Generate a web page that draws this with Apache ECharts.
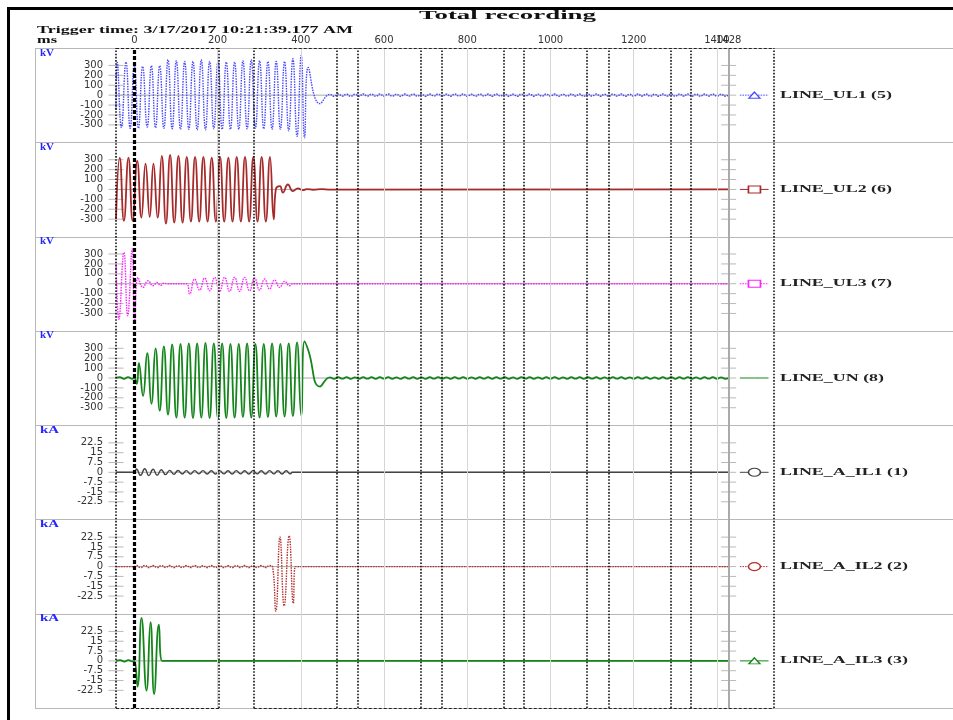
<!DOCTYPE html>
<html><head><meta charset="utf-8">
<script src="https://cdn.jsdelivr.net/npm/echarts@6/dist/echarts.min.js"></script>
<style>html,body{margin:0;padding:0;background:#fff}#c{width:953px;height:720px}</style>
</head><body><div id="c"></div><script>
// ---------------- data ----------------
const xStart = -44, xEnd = 1428, xMax = 1537;
const xTickLabels = [0, 200, 400, 600, 800, 1000, 1200, 1400];
const xEndLabel = [1428];
const gridLineTimes = [200, 400, 600, 800, 1000, 1200, 1400];
const cursorTimes = [-44, 204, 287, 486, 538, 688, 738, 887, 935, 1087, 1139, 1289, 1337, 1537];
const triggerTime = 0;
const borderSegments = [[-44, 204], [287, 1537]];
const kvTicks = [300, 200, 100, 0, -100, -200, -300];
const kaTicks = [22.5, 15, 7.5, 0, -7.5, -15, -22.5];
const kvRange = 476, kaRange = 36;
const legendSample = [1455, 1490, 1524];
const rippleStep = 10;

const ul1Main = [[-44,-150],[-41,330],[-31,-327],[-20,334],[-10,-334],[0,300],[10,-334],[20,290],[31,-322],[41,297],[51,-330],[61,297],[71,-335],[81,357],[91,-340],[101,347],[111,-345],[121,340],[131,-345],[141,340],[151,-350],[161,357],[171,-350],[181,340],[191,-340],[201,340],[211,-345],[221,334],[231,-345],[241,334],[251,-345],[261,347],[271,-340],[281,357],[291,-335],[301,347],[311,-340],[321,340],[331,-345],[341,340],[351,-345],[361,340],[371,-360],[381,367],[391,-415],[401,401],[409,-430],[418,280],[446,-86],[470,8]];
const ul1RippleStart = 480;
const ul1Ripple = [-11,12,-10,11,-12,10,-11,12,-10,11,-12,11,-10,12,-11,10,-12,11,-10,12,
 -11,10,-12,11,-10,12,-11,10,-11,12,-10,11,-12,10,-11,12,-10,11,-12,11,
 -10,12,-11,10,-12,11,-10,12,-11,10,-11,12,-10,11,-12,10,-11,12,-10,11,
 -12,11,-10,12,-11,10,-12,11,-10,12,-11,10,-11,12,-10,11,-12,10,-11,12,
 -10,11,-12,11,-10,12,-11,10,-12,11,-10,12,-11,10,-11];

const ul2Main = [[-44,-300],[-35,321],[-25,-318],[-14,321],[-4,-318],[7,288],[17,-285],[27,261],[37,-278],[46,261],[56,-285],[66,338],[76,-345],[86,348],[96,-335],[106,338],[116,-335],[126,328],[136,-325],[146,328],[156,-325],[166,328],[176,-325],[186,321],[196,-325],[206,328],[216,-325],[226,321],[236,-325],[246,328],[256,-325],[266,328],[276,-325],[286,328],[296,-325],[306,328],[316,-325],[326,328],[335,-301],[340,0],[350,33],[357,-33],[369,50],[381,-17],[393,10],[405,-7],[415,3],[430,-3],[450,3],[470,-2]];

const ul3Main = [[-44,249],[-37,-357],[-25,316],[-16,-323],[-5,350],[1,-374],[9,64],[21,-37],[33,30],[45,-20],[55,13],[63,-17],[71,5],[80,0],[125,0],[133,-104],[145,47],[157,-64],[169,57],[181,-71],[193,64],[205,-77],[217,64],[229,-77],[241,64],[253,-77],[265,64],[277,-71],[289,57],[301,-64],[313,47],[325,-54],[337,37],[349,-37],[361,24],[373,-20],[380,0]];

const unMain = [[-44,0],[-35,8],[-25,-8],[-15,8],[-5,-8],[0,0],[6,-60],[11,150],[21,-180],[31,250],[41,-260],[51,300],[61,-330],[71,320],[81,-370],[91,340],[101,-400],[111,345],[121,-400],[131,350],[141,-405],[151,350],[161,-400],[171,355],[181,-405],[191,350],[201,-410],[211,350],[221,-405],[231,345],[241,-400],[251,345],[261,-395],[271,350],[281,-400],[291,345],[301,-400],[311,345],[321,-395],[331,350],[341,-390],[351,345],[361,-390],[371,350],[381,-385],[391,360],[401,-380],[409,370],[418,280],[446,-86],[470,6]];
const unRippleStart = 480;
const unRipple = [-8,9,-7,8,-9,7,-8,9,-7,8,-9,8,-7,9,-8,7,-9,8,-7,9,
 -8,7,-9,8,-7,9,-8,7,-8,9,-7,8,-9,7,-8,9,-7,8,-9,8,
 -7,9,-8,7,-9,8,-7,9,-8,7,-8,9,-7,8,-9,7,-8,9,-7,8,
 -9,8,-7,9,-8,7,-9,8,-7,9,-8,7,-8,9,-7,8,-9,7,-8,9,
 -7,8,-9,8,-7,9,-8,7,-9,8,-7,9,-8,7,-8];

const il1Pre = [[-44,0],[0,0]];
const il1OscStart = 5;
const il1Osc = [2.5,-2.3,2.7,-2.5,2.3,-2.2,2.0,-1.8,1.5,-1.5,1.4,-1.3,1.3,-1.4,1.3,-1.2,1.3,-1.3,1.2,-1.3,
 1.3,-1.2,1.2,-1.3,1.3,-1.2,1.2,-1.3,1.3,-1.2,1.2,-1.3,1.3,-1.2,1.2,-1.3,1.2,-1.2];
const il1Post = [[380,0]];

const il2Pre = [[-44,0],[0,0]];
const il2OscStart = 5;
const il2Osc = [0.9,-0.8,0.9,-0.8,0.8,-0.8,0.8,-0.7,0.8,-0.8,0.7,-0.8,0.8,-0.7,0.8,-0.8,0.7,-0.8,0.8,-0.7,
 0.8,-0.8,0.7,-0.8,0.8,-0.7,0.8,-0.8,0.7,-0.8,0.8,-0.7,0.8];
const il2Post = [[332,0],[340,-34],[350,22.7],[360,-30],[372,23.5],[382,-28],[387,0]];

const il3Main = [[-44,0],[-34,0.6],[-24,-0.5],[-14,0.6],[-4,-0.4],[0,0],[7.7,-19.6],[17.3,32.9],[29.3,-22.7],[39,29.5],[47.6,-25.3],[59,27.7],[67,0]];

// ---------------- build ----------------
function seq(start, vals){ return vals.map((v,i)=>[start + i*rippleStep, v]); }
const waves = [
  ul1Main.concat(seq(ul1RippleStart, ul1Ripple), [[xEnd,0]]),
  ul2Main.concat([[xEnd,0]]),
  ul3Main.concat([[xEnd,0]]),
  unMain.concat(seq(unRippleStart, unRipple), [[xEnd,0]]),
  il1Pre.concat(seq(il1OscStart, il1Osc), il1Post, [[xEnd,0]]),
  il2Pre.concat(seq(il2OscStart, il2Osc), il2Post, [[xEnd,0]]),
  il3Main.concat([[xEnd,0]])
];
const DOT = [1.5, 1.1];
const channels = [
  {name:'LINE_UL1 (5)', unit:'kV', color:'#4848ff', dash:DOT, lw:1.4, marker:'triangle', ms:[11,6]},
  {name:'LINE_UL2 (6)', unit:'kV', color:'#a62a2a', dash:'solid', lw:1.8, marker:'rect', ms:[12,7]},
  {name:'LINE_UL3 (7)', unit:'kV', color:'#ff22ff', dash:DOT, lw:1.4, marker:'rect', ms:[12,7]},
  {name:'LINE_UN (8)', unit:'kV', color:'#14851a', dash:'solid', lw:1.8, marker:'none', ms:[1,1]},
  {name:'LINE_A_IL1 (1)', unit:'kA', color:'#444444', dash:'solid', lw:1.4, marker:'circle', ms:[12,8]},
  {name:'LINE_A_IL2 (2)', unit:'kA', color:'#b53030', dash:DOT, lw:1.4, marker:'circle', ms:[12,8]},
  {name:'LINE_A_IL3 (3)', unit:'kA', color:'#14851a', dash:'solid', lw:1.8, marker:'triangle', ms:[11,6]}
];

const TOP = 48, PANEL_H = 94.29, LEFT = 116, WIDTH = 658;
const grids = [], xAxes = [], yAxes = [], series = [];
const axisFont = {fontFamily:'DejaVu Sans', fontSize:10, color:'#333'};
channels.forEach((ch, i) => {
  grids.push({left:LEFT, width:WIDTH, top:TOP + i*PANEL_H, height:PANEL_H, outerBoundsMode:'none', containLabel:false});
  xAxes.push({type:'value', gridIndex:i, min:xStart, max:xMax, position:'top',
    axisLine:{show:false}, axisTick:{show:false}, splitLine:{show:false},
    axisLabel: i===0 ? Object.assign({show:true, customValues:xTickLabels, margin:3, hideOverlap:false,
      formatter:(v)=>String(v)}, axisFont) : {show:false}});
  const kv = ch.unit==='kV';
  const ticks = kv ? kvTicks : kaTicks;
  const rng = kv ? kvRange : kaRange;
  yAxes.push({type:'value', gridIndex:i, min:-rng, max:rng,
    axisLine:{show:false}, axisTick:{show:false}, splitLine:{show:false},
    axisLabel:Object.assign({customValues:ticks, margin:13, formatter:(v)=>String(v)}, axisFont)});
  series.push({type:'line', xAxisIndex:i, yAxisIndex:i, data:[[xStart,0],[xEnd,0]], symbol:'none', silent:true, z:1,
    lineStyle:{color:'#a8a8a8', width:1}});
  series.push({type:'scatter', xAxisIndex:i, yAxisIndex:i, silent:true, clip:false, z:1,
    data: ticks.map(v=>[xStart,v]).concat(ticks.map(v=>[xEnd,v])),
    symbol:'rect', symbolSize:[15,1], itemStyle:{color:'#a8a8a8'}});
  series.push({type:'line', name:ch.name, xAxisIndex:i, yAxisIndex:i, data:waves[i], symbol:'none', silent:true, z:3,
    smooth:0.5, clip:true, lineStyle:{color:ch.color, width:ch.lw, type:ch.dash}});
  series.push({type:'line', xAxisIndex:i, yAxisIndex:i, silent:true, z:3, clip:false,
    data: legendSample.map((t,k)=>({value:[t,0], symbol: k===1 ? ch.marker : 'none'})),
    symbolSize:ch.ms, showSymbol:true,
    itemStyle:{color:'#fff', borderColor:ch.color, borderWidth:1.3},
    lineStyle:{color:ch.color, width:1, type:ch.dash}});
});
const OI = channels.length;
grids.push({left:LEFT, width:WIDTH, top:TOP, height:PANEL_H*channels.length, outerBoundsMode:'none', containLabel:false});
xAxes.push({type:'value', gridIndex:OI, min:xStart, max:xMax, show:false});
yAxes.push({type:'value', gridIndex:OI, min:0, max:1, show:false});
// separate top axis for the end-of-recording label (overlaps 1400, as in the original)
xAxes.push({type:'value', gridIndex:0, min:xStart, max:xMax, position:'top',
  axisLine:{show:false}, axisTick:{show:false}, splitLine:{show:false},
  axisLabel:Object.assign({show:true, customValues:xEndLabel, margin:3, hideOverlap:false, formatter:(v)=>String(v)}, axisFont)});
const noLabel = {show:false};
series.push({type:'line', xAxisIndex:OI, yAxisIndex:OI, data:[], silent:true, z:0,
  markLine:{silent:true, symbol:['none','none'], label:noLabel, animation:false,
    data: gridLineTimes.map(t=>({xAxis:t, lineStyle:{color:'#d6d6d6', width:1, type:'solid'}}))
      .concat([{xAxis:xEnd, lineStyle:{color:'#aaaaaa', width:2, type:'solid'}}])}});
series.push({type:'line', xAxisIndex:OI, yAxisIndex:OI, data:[], silent:true, z:10,
  markLine:{silent:true, symbol:['none','none'], label:noLabel, animation:false,
    data: cursorTimes.map(t=>({xAxis:t, lineStyle:{color:'#111', width:1.6, type:[1.6,1.6]}}))
      .concat([{xAxis:triggerTime, lineStyle:{color:'#000', width:3.2, type:[4,2]}}])
      .concat(borderSegments.map(s=>[{coord:[s[0],1], lineStyle:{color:'#222', width:1.2, type:[3,2]}},{coord:[s[1],1]}]))
      .concat(borderSegments.map(s=>[{coord:[s[0],0], lineStyle:{color:'#222', width:1.2, type:[3,2]}},{coord:[s[1],0]}]))}});

// ---------------- text / frame graphics ----------------
const SERIF = 'bold 10px "Liberation Serif"';
const ctx = document.createElement('canvas').getContext('2d');
function w(text, font){ ctx.font = font; return ctx.measureText(text).width; }
function stretchText(text, x, y, font, targetW, fill){
  const s = targetW / w(text, font);
  return {type:'text', x:x, y:y, scaleX:s, z:20, silent:true,
    style:{text:text, font:font, fill:fill||'#111', textAlign:'left', textVerticalAlign:'middle'}};
}
const legendScale = 112 / w('LINE_UL1 (5)', SERIF);
const graphics = [];
graphics.push({type:'line', z:20, silent:true, shape:{x1:8.5,y1:7,x2:8.5,y2:720}, style:{stroke:'#000', lineWidth:3}});
graphics.push({type:'line', z:20, silent:true, shape:{x1:7,y1:8.5,x2:953,y2:8.5}, style:{stroke:'#000', lineWidth:3}});
graphics.push({type:'line', z:-1, silent:true, shape:{x1:35.5,y1:TOP,x2:35.5,y2:TOP+PANEL_H*channels.length}, style:{stroke:'#b8b8b8', lineWidth:1}});
for (let k=0;k<=channels.length;k++){
  const y = Math.round(TOP + k*PANEL_H) + 0.5;
  graphics.push({type:'line', z:-1, silent:true, shape:{x1:35,y1:y,x2:953,y2:y}, style:{stroke:'#b8b8b8', lineWidth:1}});
}
graphics.push(stretchText('Total recording', 419, 16, 'bold 13px "Liberation Serif"', 177, '#111'));
graphics.push(stretchText('Trigger time: 3/17/2017 10:21:39.177 AM', 37, 30, SERIF, 316, '#111'));
graphics.push(stretchText('ms', 37, 40, SERIF, 20, '#111'));
channels.forEach((ch,i)=>{
  const top = TOP + i*PANEL_H;
  graphics.push(stretchText(ch.unit, 40, top+5, SERIF, ch.unit==='kV'?14:19, '#2626ff'));
  graphics.push({type:'text', x:780, y:top+PANEL_H/2, scaleX:legendScale, z:20, silent:true,
    style:{text:ch.name, font:SERIF, fill:'#222', textAlign:'left', textVerticalAlign:'middle'}});
});

const chart = echarts.init(document.getElementById('c'), null, {renderer:'canvas'});
chart.setOption({animation:false, backgroundColor:'#fff', grid:grids, xAxis:xAxes, yAxis:yAxes, series:series, graphic:graphics});
</script></body></html>
